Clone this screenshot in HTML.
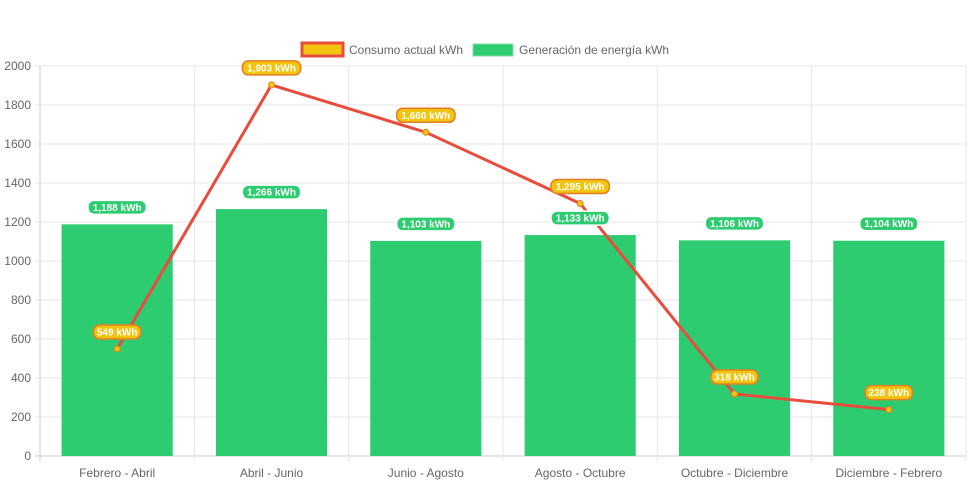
<!DOCTYPE html>
<html><head><meta charset="utf-8"><style>
html,body{margin:0;padding:0;background:#fff;}
svg{display:block;font-family:"Liberation Sans",Arial,sans-serif;}
</style></head><body>
<svg id="chart" width="971" height="485">
<g>
 <rect x="302" y="43" width="41" height="13" fill="#f1c40f" stroke="#e74c3c" stroke-width="3"/>
 <text x="349" y="54" font-size="12" fill="#666">Consumo actual kWh</text>
 <rect x="473" y="44" width="40" height="12" fill="#2ecc71" stroke="#7fe0a8" stroke-width="1"/>
 <text x="519" y="54" font-size="12" fill="#666">Generación de energía kWh</text>
</g>
<g id="grid"></g><g id="bars"></g><g id="line"></g><g id="labels"></g>
</svg>
<script>
const categories=["Febrero - Abril","Abril - Junio","Junio - Agosto","Agosto - Octubre","Octubre - Diciembre","Diciembre - Febrero"];
const generacion=[1188,1266,1103,1133,1106,1104];
const consumo=[549,1903,1660,1295,318,238];
const yTicks=[0,200,400,600,800,1000,1200,1400,1600,1800,2000];
const NS="http://www.w3.org/2000/svg";
const L=40,R=966,T=66,B=456,yMax=2000;
const bw=(R-L)/categories.length;
const x=i=>L+bw*(i+0.5);
const y=v=>B-(v/yMax)*(B-T);
function mk(tag,attrs,parent){const e=document.createElementNS(NS,tag);for(const k in attrs)e.setAttribute(k,attrs[k]);parent.appendChild(e);return e;}
const grid=document.getElementById('grid'),bars=document.getElementById('bars'),line=document.getElementById('line'),labels=document.getElementById('labels');
yTicks.forEach(t=>{
 const g=mk('line',{x1:L-5,x2:R,y1:y(t),y2:y(t),stroke:t===0?'#ccc':'#e5e5e5'},grid);
 
 
 const tx=mk('text',{x:L-9,y:y(t)+4,'text-anchor':'end','font-size':12,fill:'#666'},grid);
 tx.textContent=t;
 
 
});
for(let i=0;i<=categories.length;i++){
 const g=mk('line',{x1:L+bw*i,x2:L+bw*i,y1:T,y2:B+5,stroke:i===0?'#ccc':'#e5e5e5'},grid);
 
 
}
categories.forEach((c,i)=>{
 const tx=mk('text',{x:x(i),y:477,'text-anchor':'middle','font-size':12,fill:'#666'},grid);
 tx.textContent=c;
 
 
});
function pill(cx,cy,txt,fill,stroke){
 const w=txt.length*5.6+8;
 const r=mk('rect',{x:cx-w/2,y:cy-7,width:w,height:14,rx:6,fill:fill,stroke:stroke,'stroke-width':1.5},labels);
 
 
 const t=mk('text',{x:cx,y:cy+3.5,'text-anchor':'middle','font-size':10,'font-weight':'bold',fill:'#fff'},labels);
 t.textContent=txt;
 
 
}
const fmt=v=>v.toLocaleString('en-US')+' kWh';
const barW=bw*0.72;
generacion.forEach((v,i)=>{
 const r=mk('rect',{x:x(i)-barW/2,y:y(v),width:barW,height:B-y(v),fill:'#2ecc71'},bars);
 
 
 pill(x(i),y(v)-17,fmt(v),'#2ecc71','#fff');
});
const pts=consumo.map((v,i)=>x(i)+','+y(v)).join(' ');
const pl=mk('polyline',{points:pts,fill:'none',stroke:'#e74c3c','stroke-width':3,'stroke-linejoin':'round'},line);


consumo.forEach((v,i)=>{
 const c=mk('circle',{cx:x(i),cy:y(v),r:3,fill:'#f1c40f',stroke:'#e67e22','stroke-width':1},line);
 
 
 pill(x(i),y(v)-17,fmt(v),'#f1c40f','#e67e22');
});
</script>
</body></html>
